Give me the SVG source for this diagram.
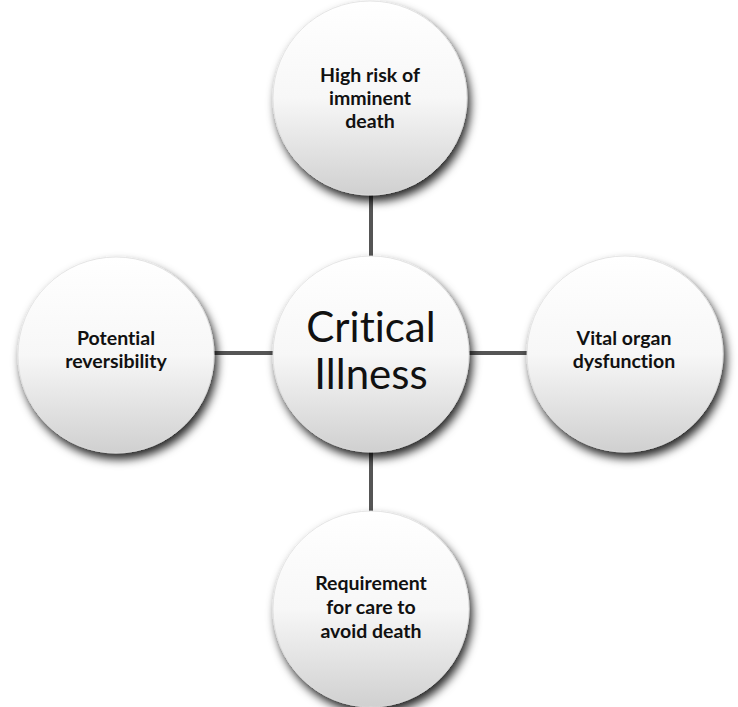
<svg xmlns="http://www.w3.org/2000/svg" width="738" height="707" viewBox="0 0 738 707">
<defs>
<linearGradient id="g" x1="0" y1="0" x2="0" y2="1">
<stop offset="0" stop-color="#ffffff"/>
<stop offset="0.5" stop-color="#f7f7f7"/>
<stop offset="1" stop-color="#d0d0d0"/>
</linearGradient>
<filter id="sh" x="-30%" y="-30%" width="160%" height="160%">
<feGaussianBlur in="SourceAlpha" stdDeviation="5"/>
<feOffset dx="3" dy="6" result="b"/>
<feFlood flood-color="#000" flood-opacity="0.85"/>
<feComposite in2="b" operator="in"/>
<feMerge><feMergeNode/><feMergeNode in="SourceGraphic"/></feMerge>
</filter>
<style>
.c{fill:url(#g);filter:url(#sh);stroke:#e0e0e0;stroke-width:0.8}
.t{font-family:Lato,"Liberation Sans",sans-serif;font-weight:bold;font-size:19.5px;fill:#111;text-anchor:middle;font-variant-ligatures:none;font-feature-settings:"liga" 0}
.big{font-size:42px;font-weight:normal}
.ln{stroke:#555;stroke-width:4;fill:none}
</style>
</defs>
<rect width="738" height="707" fill="#fff"/>
<g id="connectors">
<line class="ln" x1="371" y1="195" x2="371" y2="258"/>
<line class="ln" x1="371" y1="450" x2="371" y2="512"/>
<line class="ln" x1="211" y1="353" x2="275" y2="353"/>
<line class="ln" x1="467" y1="353" x2="529" y2="353"/>
</g>
<g id="top">
<circle class="c" cx="370" cy="98" r="97"/>
<text class="t" x="370" y="82">High risk of</text>
<text class="t" x="370" y="105">imminent</text>
<text class="t" x="370" y="128">death</text>
</g>
<g id="left">
<circle class="c" cx="116" cy="355" r="98"/>
<text class="t" x="116" y="345">Potential</text>
<text class="t" x="116" y="368">reversibility</text>
</g>
<g id="right">
<circle class="c" cx="625" cy="354" r="98"/>
<text class="t" x="624" y="345">Vital organ</text>
<text class="t" x="624" y="368">dysfunction</text>
</g>
<g id="bottom">
<circle class="c" cx="371" cy="609" r="98"/>
<text class="t" x="371" y="590">Requirement</text>
<text class="t" x="371" y="614">for care to</text>
<text class="t" x="371" y="638">avoid death</text>
</g>
<g id="center">
<circle class="c" cx="371" cy="354" r="98"/>
<text class="t big" x="371" y="342">Critical</text>
<text class="t big" x="371" y="389">Illness</text>
</g>
</svg>
